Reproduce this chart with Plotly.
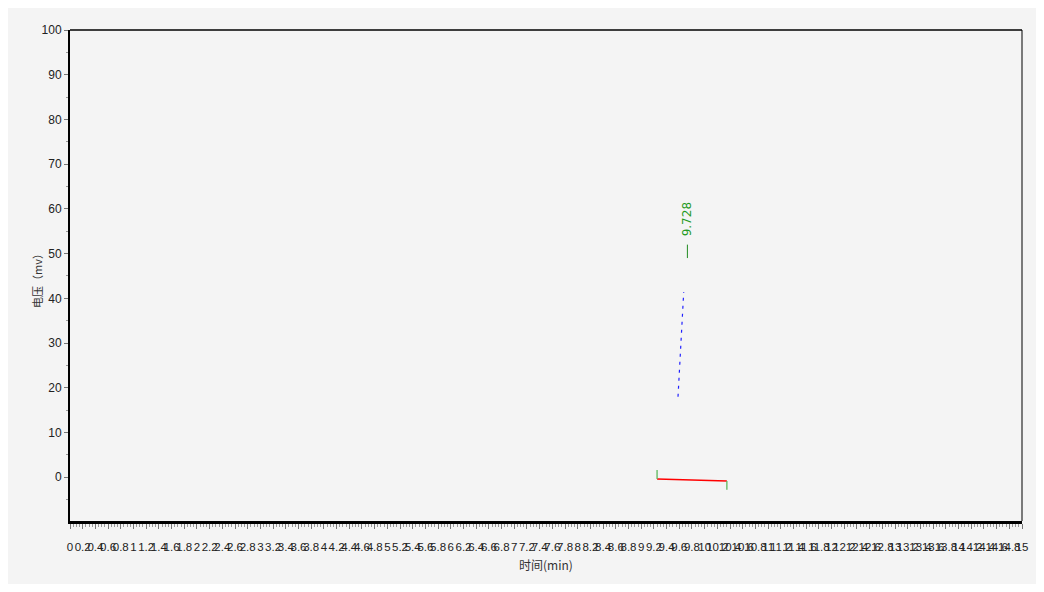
import plotly.graph_objects as go

# ---- data ----
peak_rt = 9.728
peak_label = "9.728"
peak_marker_x = [9.728, 9.728]
peak_marker_y = [49.0, 52.0]

curve_x = [9.58, 9.67]
curve_y = [18.0, 41.4]

baseline_x = [9.25, 10.35]
baseline_y = [-0.4, -0.85]

start_tick_x = [9.25, 9.25]
start_tick_y = [1.6, -0.4]
end_tick_x = [10.35, 10.35]
end_tick_y = [-0.85, -2.8]

x_range = [0, 15]
y_range = [-9.8, 100]
x_title = "时间(min)"
y_title = "电压（mv）"

BG = "#f4f4f4"
FONT = "Liberation Sans Narrow, Arial Narrow, Liberation Sans, Arial, sans-serif"

fig = go.Figure()

fig.add_trace(go.Scatter(x=curve_x, y=curve_y, mode="lines",
                         line=dict(color="#2020ff", width=1.2, dash="3px,5px"),
                         hoverinfo="skip", showlegend=False))
fig.add_trace(go.Scatter(x=baseline_x, y=baseline_y, mode="lines",
                         line=dict(color="#ff0000", width=1.6),
                         hoverinfo="skip", showlegend=False))
fig.add_trace(go.Scatter(x=start_tick_x, y=start_tick_y, mode="lines",
                         line=dict(color="#5cb85c", width=1.3),
                         hoverinfo="skip", showlegend=False))
fig.add_trace(go.Scatter(x=end_tick_x, y=end_tick_y, mode="lines",
                         line=dict(color="#5cb85c", width=1.3),
                         hoverinfo="skip", showlegend=False))
fig.add_trace(go.Scatter(x=peak_marker_x, y=peak_marker_y, mode="lines",
                         line=dict(color="#228b22", width=1),
                         hoverinfo="skip", showlegend=False))

fig.add_annotation(x=peak_rt, y=53.5, text=peak_label, textangle=-90,
                   showarrow=False, yanchor="bottom", xanchor="center",
                   font=dict(family="DejaVu Sans, sans-serif", size=12, color="#1f9a1f"))

# y-axis title placed as annotation
fig.add_annotation(xref="paper", yref="paper", x=-33 / 952, y=0.495, text=y_title,
                   textangle=-90, showarrow=False, xanchor="center", yanchor="middle",
                   font=dict(family="Noto Sans CJK SC, sans-serif", size=11, color="#333"))

W, H = 1029, 576
fig.update_layout(
    width=W, height=H,
    margin=dict(l=62, r=15, t=22, b=63, autoexpand=False),
    paper_bgcolor=BG, plot_bgcolor=BG,
    showlegend=False,
    font=dict(family=FONT, size=13, color="#222"),
)

fig.update_xaxes(
    range=x_range, dtick=0.2, tick0=0, tickangle=0, automargin=False,
    showgrid=False, zeroline=False,
    showline=True, linecolor="black", linewidth=3, mirror=False,
    ticks="outside", ticklen=5, tickcolor="#777", tickwidth=1,
    minor=dict(dtick=0.05, ticks="outside", ticklen=3, tickcolor="#999", tickwidth=1),
    tickfont=dict(family=FONT, size=11.5, color="#222"),
    ticklabelstandoff=8,
    title=dict(text=x_title, font=dict(family="Noto Sans CJK SC, sans-serif", size=12, color="#333"), standoff=10),
)
fig.update_yaxes(
    range=y_range, tick0=0, dtick=10, automargin=False,
    showgrid=False, zeroline=False,
    showline=True, linecolor="black", linewidth=2, mirror=False,
    ticks="outside", ticklen=4, tickcolor="#777", tickwidth=1,
    minor=dict(dtick=5, ticks="outside", ticklen=2, tickcolor="#999", tickwidth=1),
    tickfont=dict(family=FONT, size=12, color="#222"),
)

# thin top and right frame lines
fig.add_shape(type="line", xref="paper", yref="paper", x0=0, x1=1, y0=1, y1=1,
              line=dict(color="black", width=1.5))
fig.add_shape(type="line", xref="paper", yref="paper", x0=1, x1=1, y0=0, y1=1,
              line=dict(color="black", width=1))

fig.write_html("out.html")
